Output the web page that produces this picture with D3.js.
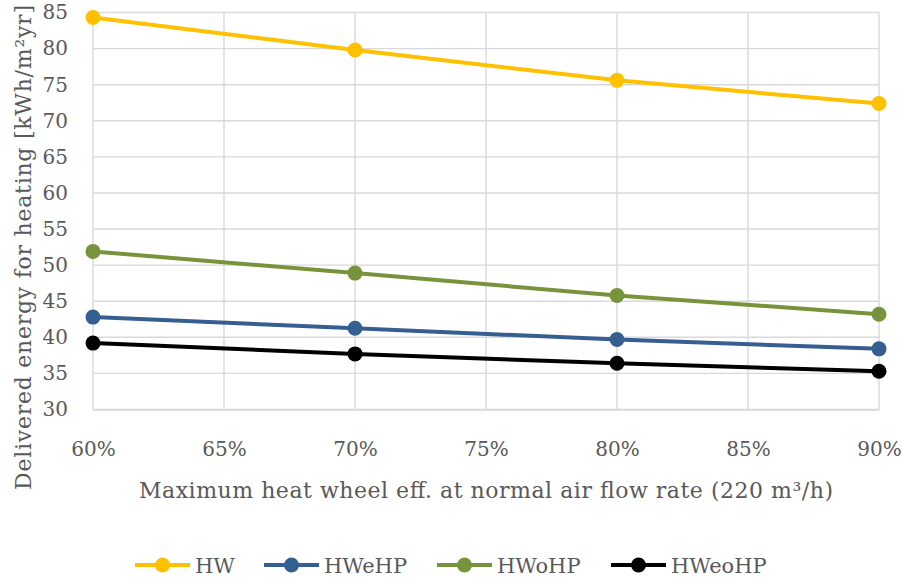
<!DOCTYPE html>
<html>
<head>
<meta charset="utf-8">
<script src="https://cdn.jsdelivr.net/npm/d3@7"></script>
<style>
  html, body { margin: 0; padding: 0; background: #fff; }
  svg { display: block; }
</style>
</head>
<body>
<svg id="chart" width="904" height="580"></svg>
<script>
// Heat wheel efficiency levels (x categories)
const efficiency = [0.60, 0.70, 0.80, 0.90];
const xTicks = [0.60, 0.65, 0.70, 0.75, 0.80, 0.85, 0.90];
const yTicks = [30, 35, 40, 45, 50, 55, 60, 65, 70, 75, 80, 85];

// Delivered energy for heating, kWh/m²yr
const seriesNames = ["HW", "HWeHP", "HWoHP", "HWeoHP"];
const hw     = [84.3, 79.8, 75.6, 72.4];
const hwehp  = [42.8, 41.25, 39.7, 38.4];
const hwohp  = [51.9, 48.9, 45.8, 43.2];
const hweohp = [39.2, 37.7, 36.4, 35.3];
const colors = ["#FFC000", "#365F91", "#77933C", "#000000"];

const FONT = "'DejaVu Serif', 'Liberation Serif', serif";
const TEXT_COLOR = "#595959";

const series = seriesNames.map((name, i) => ({
  name,
  color: colors[i],
  values: [hw, hwehp, hwohp, hweohp][i]
}));

const svg = d3.select("#chart");
const margin = { left: 93, right: 904 - 879, top: 12.5, bottom: 580 - 409.5 };
const W = 904, H = 580;

const x = d3.scaleLinear().domain([0.60, 0.90]).range([margin.left, W - margin.right]);
const y = d3.scaleLinear().domain([30, 85]).range([H - margin.bottom, margin.top]);

// Grid
const grid = svg.append("g");
grid.selectAll("line.h").data(yTicks).join("line")
  .attr("x1", x(0.60)).attr("x2", x(0.90))
  .attr("y1", d => y(d)).attr("y2", d => y(d))
  .attr("stroke", "#d9d9d9").attr("stroke-width", 1.4);
grid.selectAll("line.v").data(xTicks).join("line")
  .attr("x1", d => x(d)).attr("x2", d => x(d))
  .attr("y1", y(30)).attr("y2", y(85))
  .attr("stroke", "#d9d9d9").attr("stroke-width", 1.4);

// Axes (labels only; grid draws the lines)
const xAxis = svg.append("g")
  .attr("transform", `translate(0,${y(30)})`)
  .call(d3.axisBottom(x).tickValues(xTicks).tickFormat(d3.format(".0%")).tickSize(0).tickPadding(32));
xAxis.attr("font-family", FONT).attr("font-size", 20);
xAxis.select(".domain").attr("stroke", "#d9d9d9").attr("stroke-width", 1.4);
xAxis.selectAll("text").attr("fill", TEXT_COLOR);

const yAxis = svg.append("g")
  .attr("transform", `translate(${x(0.60)},0)`)
  .call(d3.axisLeft(y).tickValues(yTicks).tickSize(0).tickPadding(25));
yAxis.attr("font-family", FONT).attr("font-size", 20);
yAxis.select(".domain").remove();
yAxis.selectAll("text").attr("fill", TEXT_COLOR);

// Axis titles
svg.append("text")
  .attr("x", (x(0.60) + x(0.90)) / 2).attr("y", 498)
  .attr("text-anchor", "middle")
  .attr("font-family", FONT).attr("font-size", 22).attr("fill", TEXT_COLOR)
  .attr("textLength", 694).attr("lengthAdjust", "spacing")
  .text("Maximum heat wheel eff. at normal air flow rate (220 m³/h)");

svg.append("text")
  .attr("transform", "translate(31,247.5) rotate(-90)")
  .attr("text-anchor", "middle")
  .attr("font-family", FONT).attr("font-size", 22).attr("fill", TEXT_COLOR)
  .attr("textLength", 485).attr("lengthAdjust", "spacing")
  .text("Delivered energy for heating [kWh/m²yr]");

// Lines and markers
const line = d3.line().x((d, i) => x(efficiency[i])).y(d => y(d));
const sg = svg.append("g");
series.forEach(s => {
  sg.append("path").datum(s.values)
    .attr("d", line).attr("fill", "none")
    .attr("stroke", s.color).attr("stroke-width", 4).attr("stroke-linecap", "round");
  sg.selectAll(null).data(s.values).join("circle")
    .attr("cx", (d, i) => x(efficiency[i])).attr("cy", d => y(d))
    .attr("r", 7.5).attr("fill", s.color);
});

// Legend
const legendX = [135, 264, 437, 611];
const lg = svg.append("g");
series.forEach((s, i) => {
  const g = lg.append("g").attr("transform", `translate(${legendX[i]},565)`);
  g.append("line").attr("x1", 0).attr("x2", 55).attr("y1", 0).attr("y2", 0)
    .attr("stroke", s.color).attr("stroke-width", 4);
  g.append("circle").attr("cx", 27.5).attr("cy", 0).attr("r", 7.5).attr("fill", s.color);
  g.append("text").attr("x", 60).attr("y", 7.5)
    .attr("font-family", FONT).attr("font-size", 21).attr("fill", TEXT_COLOR)
    .text(s.name);
});
</script>
</body>
</html>
